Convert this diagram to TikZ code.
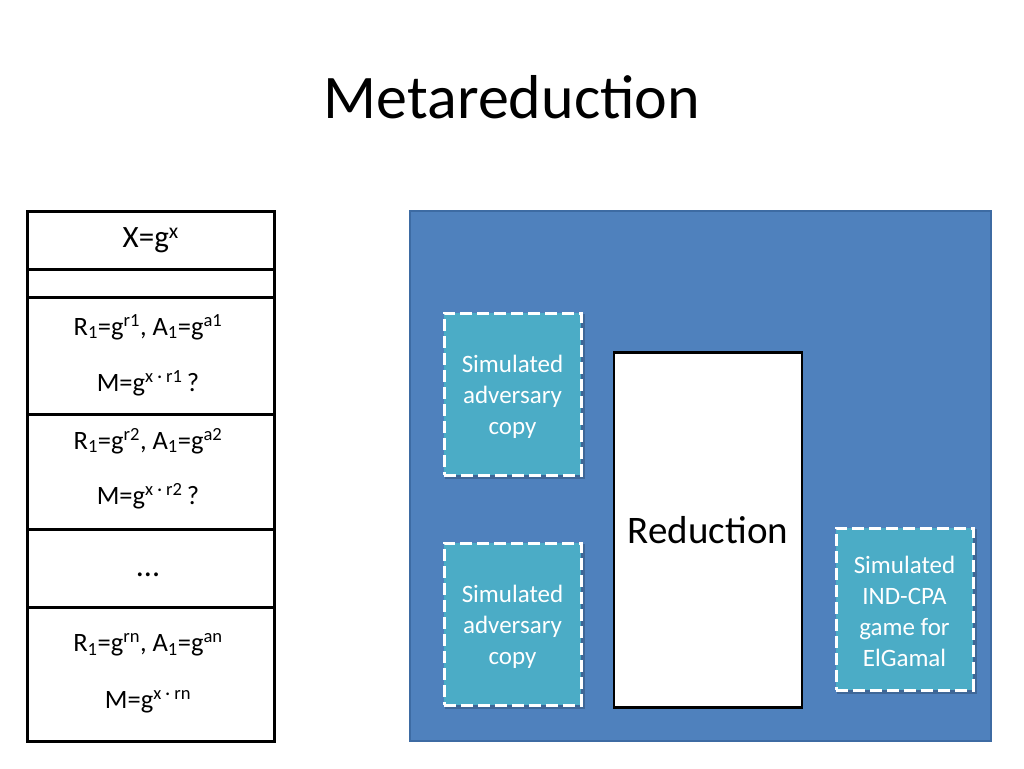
\documentclass[tikz,border=0pt]{standalone}
\usepackage{fontspec}
\setmainfont{Carlito}
\definecolor{slideblue}{HTML}{4F81BD}
\definecolor{slideborder}{HTML}{3D6BA3}
\definecolor{aquafill}{HTML}{4BACC6}
\begin{document}
\begin{tikzpicture}[x=1pt,y=-1pt,
  cell/.style={draw=black, line width=2.5pt, fill=white, minimum width=247pt, inner sep=0pt, anchor=north west},
  celltext/.style={inner sep=0pt, font=\fontsize{26.5}{31}\selectfont},
  simbox/.style={draw=white, fill=aquafill, line width=3pt, dash pattern=on 12pt off 5pt,
    minimum width=137pt, minimum height=162pt, inner sep=0pt},
  simtext/.style={inner sep=0pt, text=white, align=center, font=\fontsize{25}{31}\selectfont},
  shadowbox/.style={fill=black, opacity=0.2, minimum width=140pt, minimum height=165pt, inner sep=0pt}]
\useasboundingbox[fill=white] (0,0) rectangle (1024,768);
% title
\node[font=\fontsize{62}{70}\selectfont, inner sep=0pt] (title) at (512,97) {Metareduction};
% left column
\node[cell, minimum height=58pt, font=\fontsize{31}{36}\selectfont] (xg) at (26,210) {X=g\textsuperscript{x}};
\node[cell, minimum height=28pt] (empty) at (26,268) {};
\node[cell, minimum height=117pt] (row1) at (26,296) {};
\node[cell, minimum height=115pt] (row2) at (26,413) {};
\node[cell, minimum height=78pt] (dots) at (26,528) {};
\node[cell, minimum height=134pt] (rown) at (26,606) {};
\node[celltext] (r1a) at (148,327) {R\textsubscript{1}=g\textsuperscript{r1}, A\textsubscript{1}=g\textsuperscript{a1}};
\node[celltext] (r1b) at (148,383) {M=g\textsuperscript{x · r1}\,?};
\node[celltext] (r2a) at (148,441) {R\textsubscript{1}=g\textsuperscript{r2}, A\textsubscript{1}=g\textsuperscript{a2}};
\node[celltext] (r2b) at (148,496) {M=g\textsuperscript{x · r2}\,?};
\node[inner sep=0pt, font=\fontsize{32}{36}\selectfont] (dd) at (148,575) {...};
\node[celltext] (rna) at (148,645) {R\textsubscript{1}=g\textsuperscript{rn}, A\textsubscript{1}=g\textsuperscript{an}};
\node[celltext] (rnb) at (148,702) {M=g\textsuperscript{x · rn}};
% environment
\node[draw=slideborder, fill=slideblue, line width=1.5pt, minimum width=581pt, minimum height=530pt, inner sep=0pt, anchor=north west] (env) at (409,210) {};
% shadows
\node[shadowbox] (sh1) at (514.5,396) {};
\node[shadowbox] (sh2) at (514.5,626) {};
\node[shadowbox] (sh3) at (906.5,611) {};
% boxes
\node[simbox] (sim1) at (512.5,394) {};
\node[simtext] (sim1t) at (512.5,397) {Simulated\\adversary\\copy};
\node[simbox] (sim2) at (512.5,624) {};
\node[simtext] (sim2t) at (512.5,627) {Simulated\\adversary\\copy};
\node[simbox] (sim3) at (904.5,609) {};
\node[simtext] (sim3t) at (904.5,611.5) {Simulated\\IND-CPA\\game for\\ElGamal};
\node[draw=black, fill=white, line width=2.5pt, minimum width=188pt, minimum height=355pt, inner sep=0pt,
  font=\fontsize{39}{44}\selectfont] (red) at (708,530) {Reduction};
\end{tikzpicture}
\end{document}
